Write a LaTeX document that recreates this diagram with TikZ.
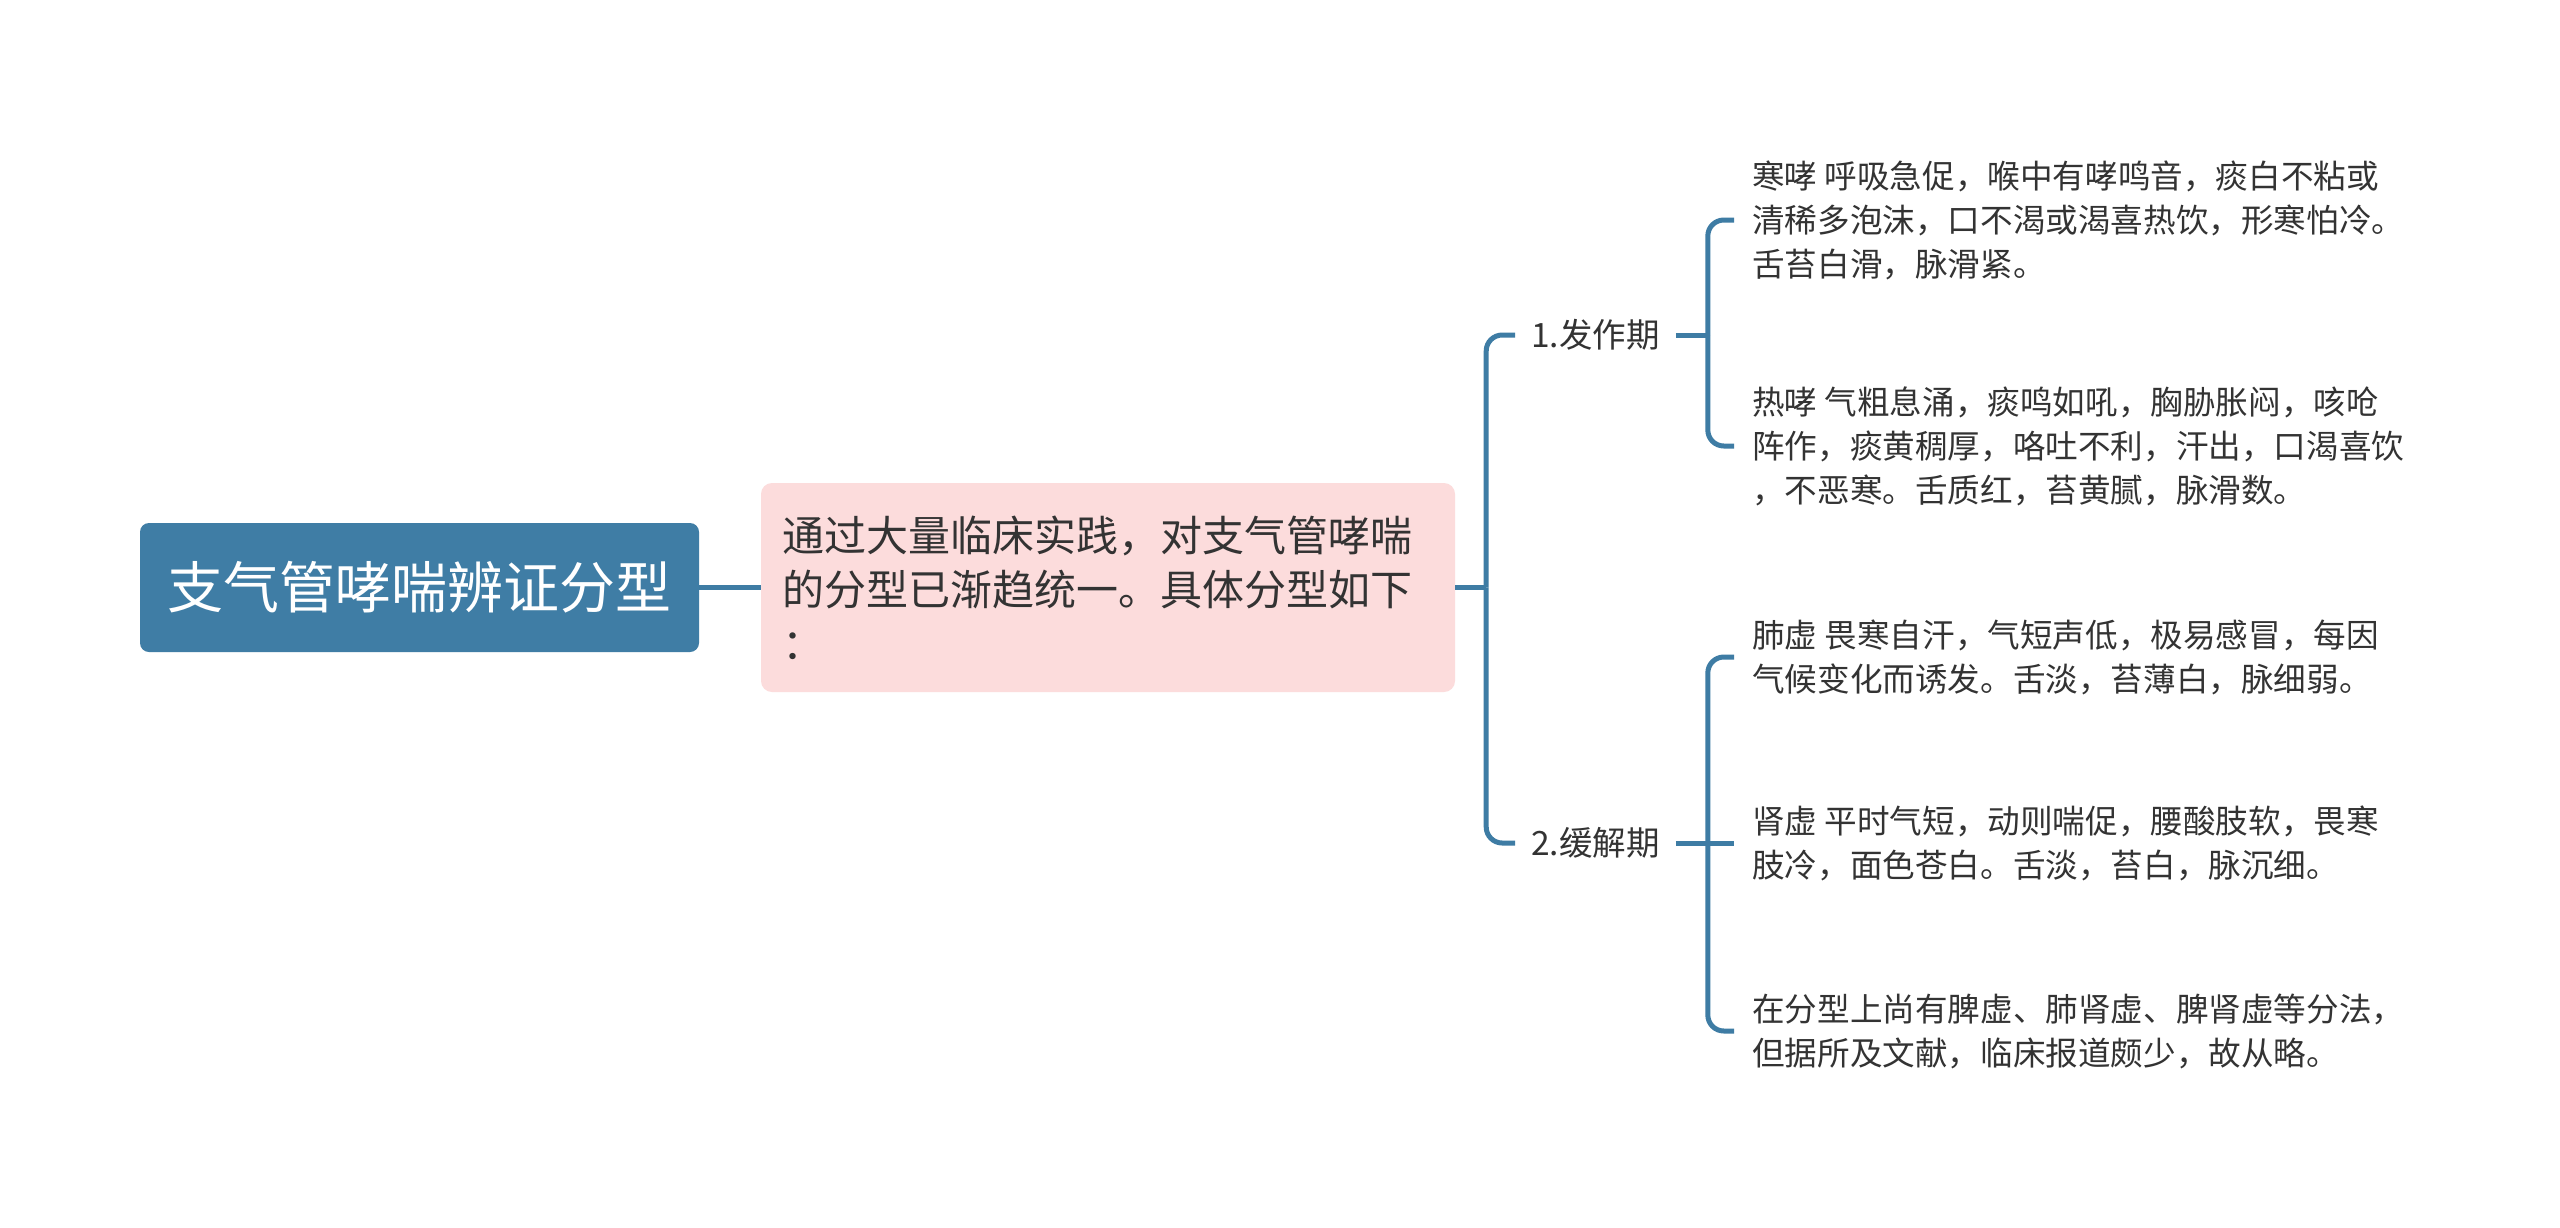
\documentclass[tikz,border=0pt]{standalone}
\usepackage{fontspec}
\setmainfont{Noto Sans CJK SC}
\usepackage{tikz}
\usetikzlibrary{calc,positioning}
\definecolor{RootBlue}{HTML}{3F7DA5}
\definecolor{EdgeBlue}{HTML}{3E7CA4}
\definecolor{TopicPink}{HTML}{FCDCDC}
\definecolor{LeafGray}{HTML}{333333}

\begin{document}
\begin{tikzpicture}[x=1pt,y=-1pt]
				\tikzset{RootStyle/.style = {rectangle,rounded corners=9pt,fill=RootBlue,text=white,
					minimum width=559pt,minimum height=129pt,inner sep=0pt,font=\fontsize{56}{64}\selectfont}}
				\tikzset{TopicStyle/.style = {rectangle,rounded corners=11pt,fill=TopicPink,text=LeafGray,
					minimum width=694pt,minimum height=209pt,inner xsep=21pt,inner ysep=0pt,
					text width=652pt,align=left,font=\fontsize{42}{54}\selectfont}}
				\tikzset{PhaseStyle/.style = {anchor=west,inner xsep=16pt,inner ysep=0pt,text=LeafGray,
					font=\fontsize{33.5}{40}\selectfont}}
				\tikzset{LeafStyle/.style = {anchor=west,inner xsep=18pt,inner ysep=0pt,text=LeafGray,
					align=left,font=\fontsize{32.6}{44}\selectfont}}
				\tikzstyle{EdgeStyle}=[draw=EdgeBlue,line width=5pt,rounded corners=16pt]
				\useasboundingbox[fill=white] (0,0) rectangle (2560,1227);
				\node[RootStyle] (root) at (419.5,587.5) {支气管哮喘辨证分型};
				\node[TopicStyle] (topic) at (1108,587.5) {通过大量临床实践，对支气管哮喘\\的分型已渐趋统一。具体分型如下\\：};
				\node[PhaseStyle] (fz) at (1515,335) {1.发作期};
				\node[PhaseStyle] (hj) at (1515,843) {2.缓解期};
				\node[LeafStyle] (hanx) at (1734,220) {寒哮 呼吸急促，喉中有哮鸣音，痰白不粘或\\清稀多泡沫，口不渴或渴喜热饮，形寒怕冷。\\舌苔白滑，脉滑紧。};
				\node[LeafStyle] (rex) at (1734,446) {热哮 气粗息涌，痰鸣如吼，胸胁胀闷，咳呛\\阵作，痰黄稠厚，咯吐不利，汗出，口渴喜饮\\，不恶寒。舌质红，苔黄腻，脉滑数。};
				\node[LeafStyle] (feix) at (1734,657) {肺虚 畏寒自汗，气短声低，极易感冒，每因\\气候变化而诱发。舌淡，苔薄白，脉细弱。};
				\node[LeafStyle] (shenx) at (1734,843) {肾虚 平时气短，动则喘促，腰酸肢软，畏寒\\肢冷，面色苍白。舌淡，苔白，脉沉细。};
				\node[LeafStyle] (qita) at (1734,1031) {在分型上尚有脾虚、肺肾虚、脾肾虚等分法，\\但据所及文献，临床报道颇少，故从略。};
				\draw[EdgeStyle] (root.east) -- (topic.west);
				\draw[EdgeStyle] (topic.east) -- ++(31,0) coordinate (j0);
				\draw[EdgeStyle] (j0) |- (fz.west);
				\draw[EdgeStyle] (j0) |- (hj.west);
				\draw[EdgeStyle] (fz.east) -- ++(32,0) coordinate (j1);
				\draw[EdgeStyle] (j1) |- (hanx.west);
				\draw[EdgeStyle] (j1) |- (rex.west);
				\draw[EdgeStyle] (hj.east) -- ++(32,0) coordinate (j2);
				\draw[EdgeStyle] (j2) |- (feix.west);
				\draw[EdgeStyle] (j2) -- (shenx.west);
				\draw[EdgeStyle] (j2) |- (qita.west);
			\end{tikzpicture}
\end{document}
